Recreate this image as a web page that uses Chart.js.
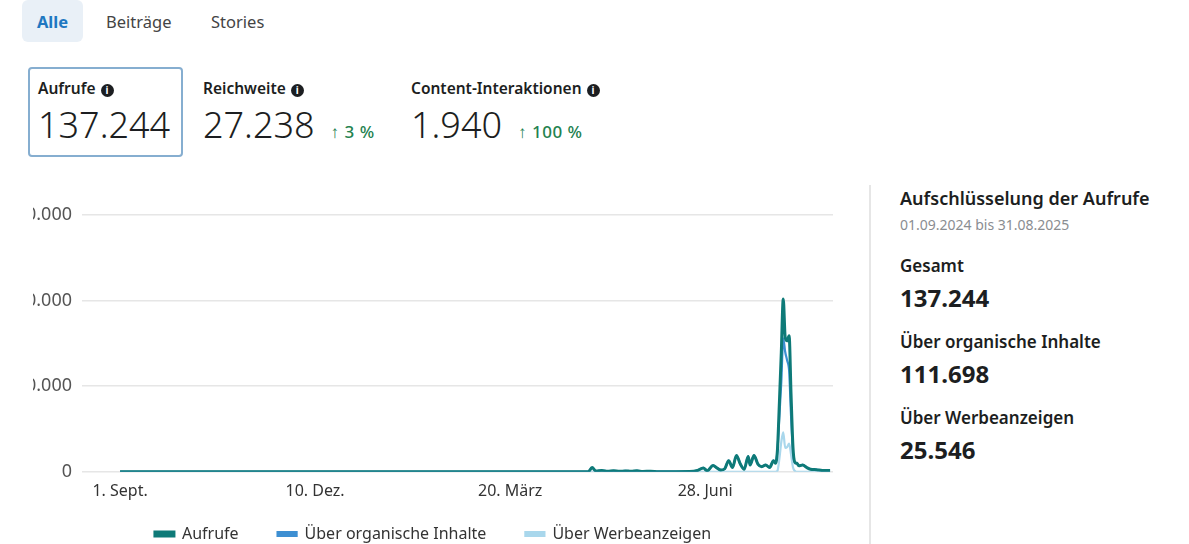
<!DOCTYPE html>
<html lang="de">
<head>
<meta charset="utf-8">
<title>Aufrufe</title>
<script src="https://cdn.jsdelivr.net/npm/chart.js@4.4.1/dist/chart.umd.min.js"></script>
<style>
  html, body { margin: 0; padding: 0; background: #fff; }
  body { width: 1189px; height: 544px; position: relative; overflow: hidden;
         font-family: "Noto Sans", "Open Sans", sans-serif; color: #1c1e21; }
  .tab { position: absolute; top: 0; height: 42px; line-height: 44px; font-size: 16.5px; color: #444; }
  .tab.active { left: 22px; width: 61px; text-align: center; background: #e9f0f7;
                border-radius: 6px; color: #1f78c1; font-weight: 700; }
  .metric { position: absolute; }
  .metric .lbl { font-size: 15.5px; font-weight: 600; color: #1c1e21; white-space: nowrap; }
  .metric .num { font-size: 36px; font-weight: 300; color: #1c1e21; line-height: 40px; margin-top: 6px; white-space: nowrap; }
  .metric .chg { font-size: 17px; font-weight: 500; color: #23824f; margin-left: 16px; letter-spacing: 0.5px; }
  .info { display: inline-block; width: 13px; height: 13px; border-radius: 50%; background: #1c1e21;
          color: #fff; font-size: 10px; line-height: 13px; text-align: center; font-weight: 700;
          vertical-align: 0px; margin-left: 5px; }
  #card { position: absolute; left: 28px; top: 67px; width: 151px; height: 86px;
          border: 2px solid #86aed0; border-radius: 4px; }
  #chartClip { position: absolute; left: 25px; top: 190px; width: 838px; height: 354px; overflow: hidden; }
  #chartWrap { position: absolute; left: -22px; top: 0; width: 860px; height: 362px; }
  #divider { position: absolute; left: 869px; top: 185px; width: 2px; height: 360px; background: #e6e6e6; }
  .side { position: absolute; left: 900px; white-space: nowrap; }
</style>
</head>
<body>
<div class="tab active">Alle</div>
<div class="tab" style="left:106px">Beiträge</div>
<div class="tab" style="left:211px">Stories</div>

<div id="card"></div>
<div class="metric" style="left:38px;top:77px">
  <div class="lbl">Aufrufe<span class="info">i</span></div>
  <div class="num">137.244</div>
</div>
<div class="metric" style="left:203px;top:77px">
  <div class="lbl">Reichweite<span class="info">i</span></div>
  <div class="num">27.238<span class="chg">↑ 3 %</span></div>
</div>
<div class="metric" style="left:411px;top:77px">
  <div class="lbl">Content-Interaktionen<span class="info">i</span></div>
  <div class="num">1.940<span class="chg">↑ 100 %</span></div>
</div>

<div id="chartClip"><div id="chartWrap"><canvas id="canvas"></canvas></div></div>

<div id="divider"></div>
<div class="side" style="top:186px;font-size:18px;font-weight:600">Aufschlüsselung der Aufrufe</div>
<div class="side" style="top:215px;font-size:14px;color:#8a8d91">01.09.2024 bis 31.08.2025</div>
<div class="side" style="top:254px;font-size:17px;font-weight:600">Gesamt</div>
<div class="side" style="top:281px;font-size:24px;font-weight:700">137.244</div>
<div class="side" style="top:330px;font-size:17px;font-weight:600">Über organische Inhalte</div>
<div class="side" style="top:357px;font-size:24px;font-weight:700">111.698</div>
<div class="side" style="top:406px;font-size:17px;font-weight:600">Über Werbeanzeigen</div>
<div class="side" style="top:433px;font-size:24px;font-weight:700">25.546</div>

<script>
// days since 1 Sept 2024
const days = [0, 240, 242, 244, 247, 250, 253, 256, 259, 262, 265, 268, 272, 276, 285, 292, 296, 299, 301, 304,
  306, 308, 310, 312, 314, 316, 318, 320, 322, 323, 325, 327, 329, 331, 333, 335, 336, 337, 338, 339,
  340, 341, 342, 343, 344, 345, 346, 347, 348, 350, 352, 354, 357, 360, 364];
const aufrufe = [0, 0, 500, 80, 150, 60, 120, 50, 100, 60, 120, 40, 60, 20, 20, 30, 150, 450, 120, 750,
  450, 200, 350, 1300, 500, 1900, 900, 300, 1800, 800, 1900, 900, 600, 800, 500, 1300, 1000, 2500, 8000, 14000,
  20200, 15700, 15300, 15900, 9000, 2800, 1100, 1000, 700, 800, 500, 300, 250, 150, 150];
const organisch = [0, 0, 500, 80, 150, 60, 120, 50, 100, 60, 120, 40, 60, 20, 20, 30, 150, 450, 120, 750,
  450, 200, 350, 1300, 500, 1900, 900, 300, 1800, 800, 1900, 900, 600, 800, 500, 1300, 1000, 2400, 6500, 10500,
  15600, 14000, 13000, 11800, 6500, 2200, 1000, 1000, 700, 800, 500, 300, 250, 150, 150];
const werbung = [0, 0, 0, 0, 0, 0, 0, 0, 0, 0, 0, 0, 0, 0, 0, 0, 0, 0, 0, 0,
  0, 0, 0, 0, 0, 0, 0, 0, 0, 0, 0, 0, 0, 0, 0, 0, 0, 100, 1500, 3500,
  4600, 2800, 2900, 3300, 2000, 500, 100, 0, 0, 0, 0, 0, 0, 0, 0];
const tickDays = [0, 100, 200, 300];
const tickLabels = ["1. Sept.", "10. Dez.", "20. März", "28. Juni"];
const yTicks = [0, 10000, 20000, 30000];

function toPoints(values) {
  return values.map((v, i) => ({ x: days[i], y: v }));
}
function fmt(n) {
  return String(n).replace(/\B(?=(\d{3})+(?!\d))/g, ".");
}

const ctx = document.getElementById("canvas").getContext("2d");
const chart = new Chart(ctx, {
  type: "line",
  data: {
    datasets: [
      { label: "Aufrufe", data: toPoints(aufrufe), borderColor: "#0e7a78", backgroundColor: "#0e7a78", borderWidth: 3 },
      { label: "Über organische Inhalte", data: toPoints(organisch), borderColor: "#3d8fd2", backgroundColor: "#3d8fd2", borderWidth: 2.2 },
      { label: "Über Werbeanzeigen", data: toPoints(werbung), borderColor: "#a9d7ec", backgroundColor: "#a9d7ec", borderWidth: 2.2 }
    ]
  },
  options: {
    responsive: true,
    maintainAspectRatio: false,
    animation: false,
    elements: { point: { radius: 0 }, line: { cubicInterpolationMode: "monotone" } },
    layout: { padding: { top: 25, right: 30, left: 30, bottom: 0 } },
    scales: {
      x: {
        type: "linear", min: -19.5, max: 365.5,
        grid: { display: false },
        border: { display: false },
        afterBuildTicks: (s) => { s.ticks = tickDays.map(v => ({ value: v })); },
        ticks: {
          autoSkip: false, maxRotation: 0, padding: 2,
          color: "#333", font: { family: "Noto Sans", size: 16 },
          callback: (v) => tickLabels[tickDays.indexOf(v)]
        }
      },
      y: {
        min: 0, max: 30000,
        afterBuildTicks: (s) => { s.ticks = yTicks.map(v => ({ value: v })); },
        afterFit: (s) => { s.width = 49; },
        border: { display: false },
        grid: { color: "#e6e6e6", lineWidth: 1.5, drawTicks: false },
        ticks: {
          padding: 10, color: "#555", font: { family: "Noto Sans", size: 18 },
          callback: (v) => fmt(v)
        }
      }
    },
    plugins: {
      tooltip: { enabled: false },
      legend: {
        position: "bottom",
        labels: {
          boxWidth: 19, boxHeight: 4, padding: 23,
          color: "#333", font: { family: "Noto Sans", size: 16 },
          generateLabels: (c) => {
            const items = Chart.defaults.plugins.legend.labels.generateLabels(c);
            items.forEach((it, i) => { if (i < items.length - 1) it.text += "\u2002\u2002"; });
            return items;
          }
        }
      }
    }
  }
});
</script>
</body>
</html>
